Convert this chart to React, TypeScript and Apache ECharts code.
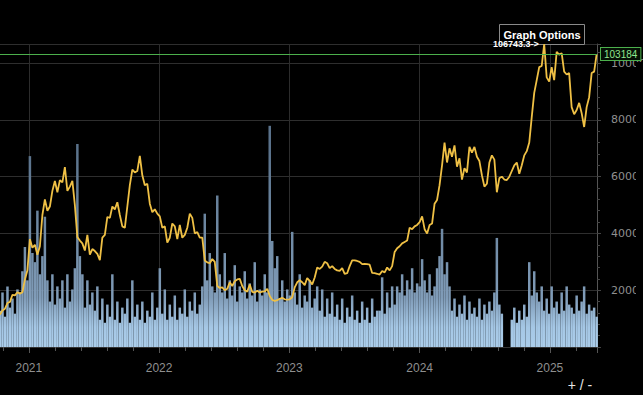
import React, { useEffect, useRef } from "react";
import * as echarts from "echarts";

// Weekly samples (Mondays), first = 2020-10-12
const START_DATE = "2020-10-12";
const END_DATE = "2025-05-13";
const yearTicks = [2021, 2022, 2023, 2024, 2025];

const price2020 = [11400, 12900, 13500, 15500, 15900, 18400, 18200, 19300, 18800, 19300, 23800, 27000];
const price2021 = [
  38000, 35000, 36000, 32500, 35500, 46500, 52000, 48000, 49500, 55000, 58500, 54500, 58800,
  58000, 63400, 55000, 56500, 58500, 50000, 38700, 37500, 36500, 34000, 39500, 32500, 34500,
  33800, 32800, 30600, 38500, 39500, 45800, 45500, 49500, 48500, 51000, 46500, 42500, 42000,
  49500, 57000, 62500, 61500, 62000, 67300, 60500, 57000, 57500, 50500, 47500, 48500, 47000,
];
const price2022 = [
  46000, 42000, 42500, 36800, 38500, 43500, 42500, 38000, 43000, 38500, 39500, 42000, 47000,
  45500, 40000, 40500, 38500, 38500, 30500, 29800, 29500, 31000, 30000, 21500, 20800, 21000,
  20000, 20500, 22800, 21500, 23200, 23800, 24000, 21500, 20000, 19500, 22000, 19400, 19200,
  19800, 19200, 19500, 19600, 20500, 18000, 16600, 16200, 16500, 17000, 17300, 16800, 16700,
];
const price2023 = [
  16800, 17500, 21000, 22800, 23500, 22800, 21800, 24300, 23300, 22000, 24500, 28000, 27500,
  28300, 30000, 29500, 27800, 28500, 27500, 27000, 26800, 27800, 25800, 26000, 28500, 30500,
  30500, 30300, 30000, 29200, 29300, 29200, 29000, 26100, 26000, 25800, 25500, 26800, 26300,
  28000, 27000, 28500, 33500, 34800, 35500, 36500, 37000, 37500, 42000, 41500, 42500, 43000,
];
const price2024 = [
  44000, 46000, 41500, 40000, 43000, 43500, 50500, 51800, 57000, 64000, 72000, 65000, 70000,
  67000, 71000, 63500, 66500, 59000, 63000, 61500, 70500, 68500, 70500, 67000, 65500, 60500,
  56500, 57500, 65000, 67500, 66000, 54500, 59500, 60000, 59000, 58800, 60000, 62000, 64000,
  65000, 61000, 64000, 67500, 69000, 72000, 81000, 89500, 94000, 98600, 99000, 106743.3, 95000,
  93500,
];
const price2025 = [
  98600, 94000, 104000, 103000, 103500, 97000, 96000, 96500, 84500, 82000, 83500, 86000, 82400,
  77500, 84500, 88000, 96500, 97000, 103184,
];

// Relative volume (percent of panel height)
const volume2020 = [12, 18, 10, 20, 13, 16, 11, 19, 18, 25, 33, 22];
const volume2021 = [
  63, 31, 28, 45, 24, 30, 43, 22, 15, 24, 14, 20, 16, 22, 13, 24, 15, 19, 26, 67, 30, 24, 13, 22,
  14, 18, 12, 20, 9, 16, 8, 14, 10, 24, 9, 15, 8, 13, 11, 16, 8, 22, 10, 14, 9, 15, 8, 12, 10, 18,
  9, 13,
];
const volume2022 = [
  26, 11, 19, 9, 14, 10, 17, 9, 13, 11, 19, 10, 15, 12, 18, 11, 14, 20, 44, 22, 31, 20, 18, 50,
  24, 18, 31, 16, 22, 17, 27, 15, 20, 18, 25, 16, 21, 17, 28, 15, 19, 17, 24, 18, 73, 35, 26, 30,
  16, 22, 15, 19,
];
const volume2023 = [
  17, 38, 18, 14, 24, 13, 17, 15, 22, 13, 16, 20, 12, 19, 10, 16, 11, 18, 10, 14, 9, 16, 8, 13,
  10, 17, 9, 12, 8, 15, 9, 13, 8, 16, 10, 12, 12, 23, 11, 18, 13, 20, 14, 20, 18, 24, 17, 22, 19,
  26, 18, 21,
];
const volume2024 = [
  20, 29, 22, 18, 24, 17, 20, 26, 30, 39, 24, 28, 20, 12, 16, 10, 14, 11, 17, 9, 15, 11, 13, 10,
  16, 9, 14, 11, 15, 12, 18, 36, 14, 11, 0, 0, 0, 9, 13, 8, 12, 9, 14, 10, 28, 17, 25, 18, 15, 20,
  12, 16, 11,
];
const volume2025 = [20, 13, 15, 11, 18, 12, 20, 14, 13, 11, 17, 12, 15, 20, 11, 14, 12, 13, 10];

const prices = [...price2020, ...price2021, ...price2022, ...price2023, ...price2024, ...price2025];
const volumes = [...volume2020, ...volume2021, ...volume2022, ...volume2023, ...volume2024, ...volume2025];

const DAY = 86400000;
function decimalYear(ms: number) {
  const y = new Date(ms).getUTCFullYear();
  const s = Date.UTC(y, 0, 1);
  const e = Date.UTC(y + 1, 0, 1);
  return y + (ms - s) / (e - s);
}
const startMs = Date.parse(START_DATE + "T00:00:00Z");
const endMs = Date.parse(END_DATE + "T00:00:00Z");
const weekX = prices.map((_, i) => decimalYear(startMs + i * 7 * DAY));
const X0 = weekX[0];
const XMAX = decimalYear(endMs);

const W = 643;
const H = 395;
const PLOT_RIGHT = 597;
const PLOT_TOP = 44;
const PLOT_BOTTOM = 347;
const pxPerYear = PLOT_RIGHT / (XMAX - X0);
const gridLeft = -(X0 - 2020) * pxPerYear;

const lastPrice = prices[prices.length - 1];
const maxPrice = Math.max(...prices);

export default function App() {
  const ref = useRef<HTMLDivElement>(null);
  useEffect(() => {
    const chart = echarts.init(ref.current!, null, { renderer: "svg" });
    const volColor = new echarts.graphic.LinearGradient(
      0, PLOT_BOTTOM, 0, 150,
      [
        { offset: 0, color: "#abcdea" },
        { offset: 0.1, color: "#a5c7e5" },
        { offset: 0.25, color: "#809cb8" },
        { offset: 1, color: "#5a728b" },
      ],
      true
    );
    chart.setOption({
      animation: false,
      backgroundColor: "#000",
      grid: {
        left: gridLeft,
        right: W - PLOT_RIGHT,
        top: PLOT_TOP,
        bottom: H - PLOT_BOTTOM,
        containLabel: false,
        outerBoundsMode: "none",
      },
      xAxis: [
        {
          type: "value",
          gridIndex: 0,
          position: "bottom",
          min: 2020,
          max: XMAX,
          interval: 1,
          axisLine: { show: true, lineStyle: { color: "#333" } },
          axisTick: { show: true, length: 6, lineStyle: { color: "#555" } },
          axisLabel: {
            color: "#8f8f8f",
            fontSize: 12,
            fontFamily: "'Liberation Sans', Arial, sans-serif",
            margin: 15,
            formatter: (v: number) => (yearTicks.includes(Math.round(v)) && Math.abs(v - Math.round(v)) < 1e-6 ? String(Math.round(v)) : ""),
          },
          splitLine: { show: true, lineStyle: { color: "#2c2c2c", width: 1 } },
        },
        {
          type: "value",
          gridIndex: 0,
          position: "bottom",
          min: 2020,
          max: XMAX,
          interval: 0.2,
          axisLine: { show: false },
          axisTick: { show: true, length: 4, lineStyle: { color: "#555" } },
          axisLabel: { show: false },
          splitLine: { show: false },
        },
      ],
      yAxis: [
        {
          type: "value",
          position: "right",
          min: 0,
          max: maxPrice,
          interval: 20000,
          axisLine: { show: true, lineStyle: { color: "#555" } },
          axisTick: { show: true, length: 4, lineStyle: { color: "#444" } },
          minorTick: { show: true, splitNumber: 5, length: 3, lineStyle: { color: "#444" } },
          axisLabel: {
            color: "#8f8f8f",
            fontSize: 11,
            fontFamily: "'DejaVu Sans', Verdana, sans-serif",
            margin: 14,
            formatter: (v: number) => (v > 0 && v % 20000 === 0 ? String(v) : ""),
          },
          splitLine: { show: true, lineStyle: { color: "#2e2e2e", width: 1 } },
        },
        { type: "value", min: 0, max: 100, show: false },
      ],
      series: [
        {
          type: "bar",
          name: "Volume",
          xAxisIndex: 0,
          yAxisIndex: 1,
          data: weekX.map((x, i) => [x, volumes[i]]),
          barWidth: 2.5,
          itemStyle: { color: volColor },
          z: 1,
          silent: true,
        },
        {
          type: "line",
          name: "Price",
          xAxisIndex: 0,
          yAxisIndex: 0,
          data: weekX.map((x, i) => [x, prices[i]]),
          showSymbol: false,
          symbol: "none",
          lineStyle: { color: "#efc045", width: 1.8 },
          z: 3,
          silent: true,
          markLine: {
            silent: true,
            symbol: ["none", "none"],
            data: [{ yAxis: lastPrice }],
            lineStyle: { color: "#4cb04c", width: 1, type: "solid" },
            label: {
              show: true,
              position: "end",
              distance: 4,
              formatter: String(lastPrice),
              color: "#8fe68f",
              fontSize: 10,
              fontFamily: "'Liberation Sans', Arial, sans-serif",
              backgroundColor: "#050f05",
              borderColor: "#4cb04c",
              borderWidth: 1,
              padding: [1, 3, 1, 3],
            },
          },
          markPoint: {
            silent: true,
            symbol: "circle",
            symbolSize: 1,
            itemStyle: { color: "rgba(0,0,0,0)" },
            data: [{ type: "max", name: "max" }],
            label: {
              show: true,
              position: "left",
              distance: 5,
              formatter: (p: any) => `${p.value}->`,
              color: "#ffffff",
              fontWeight: "bold",
              fontSize: 9,
              fontFamily: "'Liberation Sans', Arial, sans-serif",
            },
          },
        },
      ],
      graphic: [
        {
          type: "rect",
          z: 100,
          shape: { x: 636, y: 62, width: 10, height: 330 },
          style: { fill: "#000" },
          silent: true,
        },
        {
          type: "rect",
          z: 2,
          shape: { x: 499.5, y: 24.5, width: 85, height: 20 },
          style: { fill: "#000", stroke: "#8a8a8a", lineWidth: 1 },
        },
        {
          type: "text",
          z: 2,
          x: 542,
          y: 34.5,
          style: {
            text: "Graph Options",
            fill: "#ffffff",
            font: "bold 11px 'Liberation Sans', Arial, sans-serif",
            align: "center",
            verticalAlign: "middle",
            textAlign: "center",
            textVerticalAlign: "middle",
          },
        },
        {
          type: "text",
          z: 102,
          x: 580,
          y: 385,
          style: {
            text: "+ / -",
            fill: "#e6e6e6",
            font: "14px 'Liberation Sans', Arial, sans-serif",
            align: "center",
            verticalAlign: "middle",
            textAlign: "center",
            textVerticalAlign: "middle",
          },
        },
      ],
    });
    return () => chart.dispose();
  }, []);
  return (
    <div
      ref={ref}
      style={{ position: "fixed", left: 0, top: 0, width: W, height: H, background: "#000" }}
    />
  );
}
